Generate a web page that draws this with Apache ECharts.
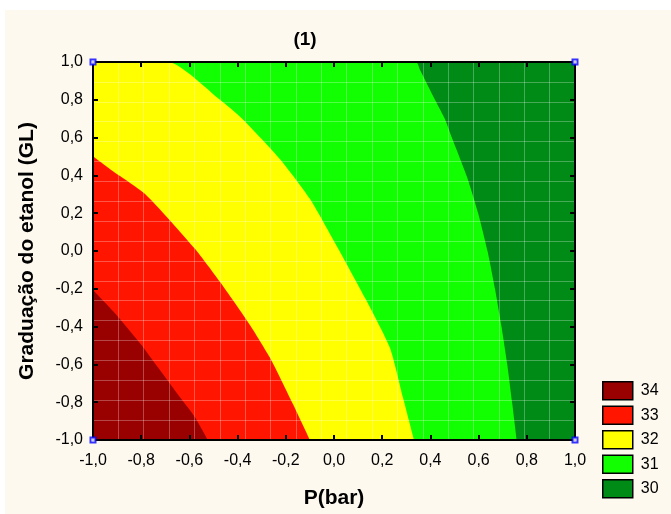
<!DOCTYPE html>
<html>
<head>
<meta charset="utf-8">
<script src="https://cdn.jsdelivr.net/npm/echarts@6/dist/echarts.min.js"></script>
<style>
  html, body { margin: 0; padding: 0; background: #ffffff; }
  #bg { position: absolute; left: 5px; top: 10px; width: 666px; height: 504px; background: #FDF9EF; }
  #chart { position: absolute; left: 0; top: 0; width: 671px; height: 514px; }
</style>
</head>
<body>
<div id="bg"></div>
<div id="chart"></div>
<script>
// ---- data ----
const titleText = '(1)';
const xName = 'P(bar)';
const yName = 'Graduação do etanol (GL)';
const levels = ['34', '33', '32', '31', '30'];
const tickValues = [-1.0, -0.8, -0.6, -0.4, -0.2, 0.0, 0.2, 0.4, 0.6, 0.8, 1.0];
const tickLabels = ['-1,0', '-0,8', '-0,6', '-0,4', '-0,2', '0,0', '0,2', '0,4', '0,6', '0,8', '1,0'];

// contour boundaries [x, y]; the region at/below each line has a value >= the level
const region30 = [[-1, 1], [1, 1]];
const region31 = [[-1, 1], [0.34, 1], [0.357, 0.958], [0.419, 0.8], [0.461, 0.696], [0.489, 0.6],
  [0.552, 0.391], [0.598, 0.2], [0.637, 0.0], [0.668, -0.2], [0.695, -0.4], [0.719, -0.6],
  [0.739, -0.8], [0.758, -1]];
const region32 = [[-1, 1], [-0.689, 1], [-0.473, 0.8], [-0.378, 0.696], [-0.224, 0.486],
  [-0.10, 0.276], [0.017, 0.013], [0.129, -0.249], [0.232, -0.512], [0.286, -0.774], [0.332, -1]];
const region33 = [[-1, 0.501], [-0.929, 0.433], [-0.784, 0.302], [-0.578, 0.013], [-0.474, -0.162],
  [-0.349, -0.391], [-0.266, -0.564], [-0.170, -0.811], [-0.10, -1]];
const region34 = [[-1, -0.206], [-0.917, -0.318], [-0.80, -0.496], [-0.73, -0.617], [-0.639, -0.774],
  [-0.577, -0.879], [-0.523, -1]];
const designPoints = [[-1, -1], [-1, 1], [1, -1], [1, 1]];

// ---- styles ----
const levelColors = { '34': '#990000', '33': '#FF1500', '32': '#FFFF00', '31': '#11FF00', '30': '#008A16' };
const FONT = 'Liberation Sans, Arial, sans-serif';

function fmt(v) {
  const i = tickValues.findIndex(t => Math.abs(t - v) < 1e-6);
  return i >= 0 ? tickLabels[i] : '';
}

function region(name, data) {
  return {
    name: name, type: 'line', xAxisIndex: 0, yAxisIndex: 0,
    data: data, showSymbol: false, symbol: 'none', smooth: 0.2,
    lineStyle: { width: 0, color: levelColors[name] },
    itemStyle: { color: levelColors[name] },
    areaStyle: { color: levelColors[name], opacity: 1, origin: 'start' },
    z: 2, silent: true, animation: false
  };
}

const gridBox = { left: 93, top: 62, width: 482, height: 381 };
const axisLineStyle = { show: true, onZero: false, lineStyle: { color: '#000', width: 2 } };
const tickStyle = { show: true, inside: true, length: 5, lineStyle: { color: '#000', width: 2 } };

const chart = echarts.init(document.getElementById('chart'), null, { renderer: 'canvas' });
chart.setOption({
  backgroundColor: 'transparent',
  animation: false,
  title: {
    text: titleText, left: 300, top: 25, textAlign: 'center',
    textStyle: { fontFamily: FONT, fontWeight: 'bold', fontSize: 19, color: '#000' }
  },
  grid: Object.assign({ show: false }, gridBox),
  legend: {
    orient: 'vertical', left: 597, top: 376, itemWidth: 30, itemHeight: 18, itemGap: 5,
    icon: 'rect', data: levels, selectedMode: false,
    itemStyle: { borderColor: '#000', borderWidth: 1.5 },
    textStyle: { fontFamily: FONT, fontSize: 16, color: '#000', padding: [0, 0, 0, 3] }
  },
  xAxis: [
    {
      type: 'value', position: 'bottom', min: -1, max: 1, interval: 0.2, z: 6,
      name: xName, nameLocation: 'middle', nameGap: 48,
      nameTextStyle: { fontFamily: FONT, fontWeight: 'bold', fontSize: 21, color: '#000' },
      axisLine: axisLineStyle, axisTick: tickStyle,
      axisLabel: { formatter: fmt, fontFamily: FONT, fontSize: 16, color: '#000', margin: 13 },
      splitLine: { show: false }
    },
    {
      type: 'value', position: 'top', min: -1, max: 1, interval: 0.2, z: 6,
      axisLine: axisLineStyle, axisTick: tickStyle,
      axisLabel: { show: false }, splitLine: { show: false }
    },
    {
      type: 'value', position: 'bottom', min: 0, max: 19, interval: 1, z: 5,
      axisLine: { show: false }, axisTick: { show: false }, axisLabel: { show: false },
      splitLine: { show: true, lineStyle: { color: 'rgba(255,255,255,0.28)', width: 1 } }
    }
  ],
  yAxis: [
    {
      type: 'value', position: 'left', min: -1, max: 1, interval: 0.2, z: 6,
      name: yName, nameLocation: 'middle', nameGap: 55, nameRotate: 90,
      nameTextStyle: { fontFamily: FONT, fontWeight: 'bold', fontSize: 21, color: '#000' },
      axisLine: axisLineStyle, axisTick: tickStyle,
      axisLabel: { formatter: fmt, fontFamily: FONT, fontSize: 16, color: '#000', margin: 10 },
      splitLine: { show: false }
    },
    {
      type: 'value', position: 'right', min: -1, max: 1, interval: 0.2, z: 6,
      axisLine: axisLineStyle, axisTick: tickStyle,
      axisLabel: { show: false }, splitLine: { show: false }
    },
    {
      type: 'value', position: 'left', min: 0, max: 19, interval: 1, z: 5,
      axisLine: { show: false }, axisTick: { show: false }, axisLabel: { show: false },
      splitLine: { show: true, lineStyle: { color: 'rgba(255,255,255,0.28)', width: 1 } }
    }
  ],
  series: [
    region('30', region30),
    region('31', region31),
    region('32', region32),
    region('33', region33),
    region('34', region34),
    {
      type: 'scatter', data: designPoints, symbol: 'emptyRect', symbolSize: 5,
      itemStyle: { color: '#0000FF', borderColor: '#0000FF', borderWidth: 1.5 },
      z: 8, silent: true, clip: false
    }
  ]
});
</script>
</body>
</html>
